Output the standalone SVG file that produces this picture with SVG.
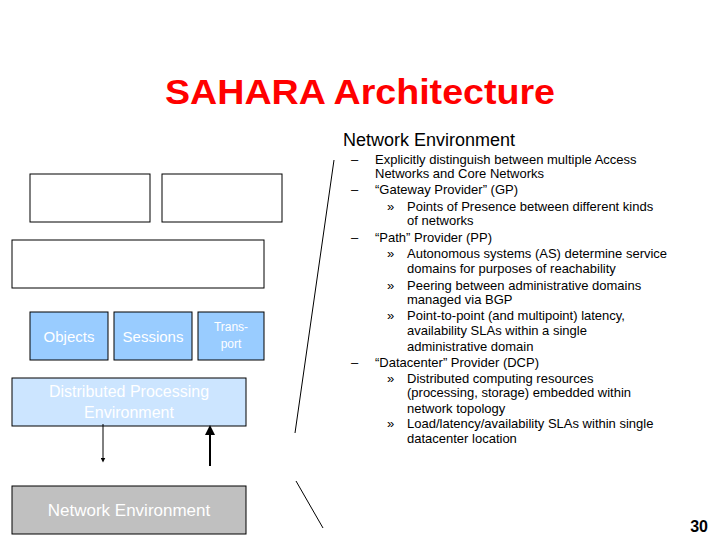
<svg xmlns="http://www.w3.org/2000/svg" width="720" height="540" viewBox="0 0 720 540">
<style>
.b{stroke:#000;stroke-width:1}
.w{fill:#fff;font-family:"Liberation Sans",sans-serif;text-anchor:middle}
.t{font-family:"Liberation Sans",sans-serif;font-size:13px;fill:#000}
</style>
<defs><marker id="a" markerWidth="5" markerHeight="5" refX="2.5" refY="2.5" orient="auto"><path d="M0,0L5,2.5L0,5z"/></marker></defs>
<rect width="720" height="540" fill="#fff"/>
<text x="165" y="104" textLength="390" lengthAdjust="spacingAndGlyphs" font-family="Liberation Sans,sans-serif" font-size="35" font-weight="bold" fill="#ff0000">SAHARA  Architecture</text>
<g id="box1"><rect class="b" x="30" y="174" width="120" height="48" fill="#fff"/></g>
<g id="box2"><rect class="b" x="162" y="174" width="120" height="48" fill="#fff"/></g>
<g id="box3"><rect class="b" x="12" y="240" width="252" height="48" fill="#fff"/></g>
<g id="objects"><rect class="b" x="30" y="312" width="78" height="48" fill="#99ccff"/><text class="w" x="69" y="342" font-size="15">Objects</text></g>
<g id="sessions"><rect class="b" x="114" y="312" width="78" height="48" fill="#99ccff"/><text class="w" x="153" y="342" font-size="15">Sessions</text></g>
<g id="transport"><rect class="b" x="198" y="312" width="66" height="48" fill="#99ccff"/><text class="w" x="231" y="331" font-size="12">Trans-</text><text class="w" x="231" y="348" font-size="12">port</text></g>
<g id="dpe"><rect class="b" x="12" y="378" width="234" height="48" fill="#cce5ff"/><text class="w" x="129" y="397" font-size="16">Distributed Processing</text><text class="w" x="129" y="418" font-size="16">Environment</text></g>
<g id="netenv"><rect class="b" x="12" y="486" width="234" height="48" fill="#c0c0c0"/><text class="w" x="129" y="516" font-size="17">Network Environment</text></g>
<g id="connectors" stroke="#000" fill="none">
<line x1="103" y1="424" x2="103" y2="460" marker-end="url(#a)"/>
<line x1="210" y1="466" x2="210" y2="430" stroke-width="2" marker-end="url(#a)"/>
<line x1="334" y1="160" x2="295" y2="433"/>
<line x1="296" y1="481" x2="323" y2="528"/>
</g>
<g id="text">
<text x="343" y="146" font-family="Liberation Sans,sans-serif" font-size="18">Network Environment</text>
<g class="t">
<text x="351" y="164">–</text><text x="375" y="164">Explicitly distinguish between multiple Access</text>
<text x="375" y="178">Networks and Core Networks</text>
<text x="351" y="194">–</text><text x="375" y="194">“Gateway Provider” (GP)</text>
<text x="387" y="211">»</text><text x="407" y="211">Points of Presence between different kinds</text>
<text x="407" y="225">of networks</text>
<text x="351" y="242">–</text><text x="375" y="242">“Path” Provider (PP)</text>
<text x="387" y="258">»</text><text x="407" y="258">Autonomous systems (AS) determine service</text>
<text x="407" y="273">domains for purposes of reachability</text>
<text x="387" y="290">»</text><text x="407" y="290">Peering between administrative domains</text>
<text x="407" y="304">managed via BGP</text>
<text x="387" y="320">»</text><text x="407" y="320">Point-to-point (and multipoint) latency,</text>
<text x="407" y="335">availability SLAs within a single</text>
<text x="407" y="351">administrative domain</text>
<text x="351" y="367">–</text><text x="375" y="367">“Datacenter” Provider (DCP)</text>
<text x="387" y="383">»</text><text x="407" y="383">Distributed computing resources</text>
<text x="407" y="397">(processing, storage) embedded within</text>
<text x="407" y="413">network topology</text>
<text x="387" y="428">»</text><text x="407" y="428">Load/latency/availability SLAs within single</text>
<text x="407" y="443">datacenter location</text>
</g>
<text x="708" y="532" text-anchor="end" font-family="Liberation Sans,sans-serif" font-size="16" font-weight="bold">30</text>
</g>
</svg>
